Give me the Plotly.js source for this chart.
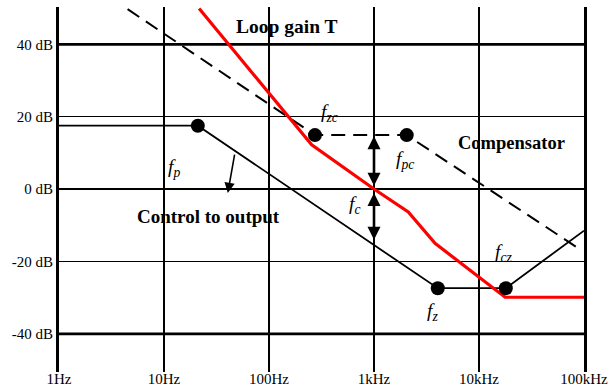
<!DOCTYPE html>
<html>
<head>
<meta charset="utf-8">
<script src="https://cdn.plot.ly/plotly-3.0.1.min.js"></script>
<style>
  html, body { margin: 0; padding: 0; background: #fff; }
  #plot { width: 615px; height: 387px; }
</style>
</head>
<body>
<div id="plot"></div>
<script>
// frequency (Hz) / gain (dB) corner points
const ctrlFreq = [1, 21, 4050, 18000, 100000];
const ctrlDb = [17.5, 17.5, -27.4, -27.4, -11.5];

const compFreq = [4.5, 274, 2050, 85500];
const compDb = [49.7, 14.9, 14.9, -16.1];

const loopFreq = [21.6, 255, 1000, 2120, 3815, 17740, 100000];
const loopDb = [49.9, 12.2, 0, -6.3, -15, -29.9, -29.9];

// poles / zeros marked with dots
const dotFreq = [21, 274, 2050, 4050, 18000];
const dotDb = [17.5, 14.9, 14.9, -27.4, -27.4];

const tickFreq = [1, 10, 100, 1000, 10000, 100000];
const tickText = ['1Hz', '10Hz', '100Hz', '1kHz', '10kHz', '100kHz'];
const dbTicks = [40, 20, 0, -20, -40];
const dbText = ['40 dB', '20 dB', '0 dB', '-20 dB', '-40 dB'];

// double arrows at the crossover frequency
const fcFreq = 1000;
const arrowTop = [14.6, -1.1];
const arrowBottom = [0.5, -14.4];

const serif = 'Liberation Serif, Times New Roman, serif';

const traces = [
  {
    x: ctrlFreq, y: ctrlDb, mode: 'lines', type: 'scatter',
    line: { color: '#000', width: 1.8 }, hoverinfo: 'none'
  },
  {
    x: compFreq, y: compDb, mode: 'lines', type: 'scatter',
    line: { color: '#000', width: 2, dash: '14px,8px' }, hoverinfo: 'none'
  },
  {
    x: loopFreq, y: loopDb, mode: 'lines', type: 'scatter',
    line: { color: '#ff0000', width: 3.2 }, hoverinfo: 'none'
  },
  {
    x: dotFreq, y: dotDb, mode: 'markers', type: 'scatter',
    marker: { color: '#000', size: 14 }, hoverinfo: 'none'
  }
];

function textLabel(freq, db, text, size, bold) {
  return {
    x: Math.log10(freq), y: db, xref: 'x', yref: 'y',
    text: bold ? '<b>' + text + '</b>' : text,
    showarrow: false,
    font: { family: serif, size: size, color: '#000' }
  };
}

const annotations = [
  textLabel(150, 45, 'Loop gain T', 19.5, true),
  textLabel(20560, 12.6, 'Compensator', 18.5, true),
  textLabel(26.3, -7.5, 'Control to output', 19, true),
  textLabel(12.4, 5.8, '<i>f</i><sub><i>p</i></sub>', 19.5),
  textLabel(373, 21, '<i>f</i><sub><i>zc</i></sub>', 19.5),
  textLabel(1976, 8, '<i>f</i><sub><i>pc</i></sub>', 19.5),
  textLabel(645, -4.4, '<i>f</i><sub><i>c</i></sub>', 19.5),
  textLabel(3573, -34, '<i>f</i><sub><i>z</i></sub>', 19.5),
  textLabel(17000, -17.7, '<i>f</i><sub><i>cz</i></sub>', 19.5)
];

arrowTop.forEach(function(top, i) {
  annotations.push({
    x: Math.log10(fcFreq), y: top, xref: 'x', yref: 'y',
    ax: Math.log10(fcFreq), ay: arrowBottom[i], axref: 'x', ayref: 'y',
    text: '', showarrow: true, arrowside: 'end+start',
    arrowhead: 2, arrowsize: 1, arrowwidth: 2.6, arrowcolor: '#000'
  });
});

// little pointer from the curve down to its label
annotations.push({
  x: Math.log10(40.5), y: -1.1, xref: 'x', yref: 'y',
  ax: Math.log10(47.3), ay: 9.9, axref: 'x', ayref: 'y',
  text: '', showarrow: true, arrowhead: 2, arrowsize: 1.3,
  arrowwidth: 1.6, arrowcolor: '#000'
});

// the +/-40 dB grid lines are drawn heavier
const shapes = dbTicks.filter(v => Math.abs(v) === 40).map(v => ({
  type: 'line', xref: 'paper', yref: 'y', x0: 0, x1: 1, y0: v, y1: v,
  line: { color: '#000', width: 2.8 }, layer: 'below'
}));

const layout = {
  width: 615,
  height: 387,
  margin: { l: 59, r: 31, t: 7, b: 15, pad: 0 },
  paper_bgcolor: '#fff',
  plot_bgcolor: '#fff',
  showlegend: false,
  font: { family: serif, color: '#000' },
  xaxis: {
    type: 'log',
    range: [0, 5],
    tickvals: tickFreq,
    ticktext: tickText,
    ticks: '',
    showgrid: true,
    gridcolor: '#000',
    gridwidth: 1.7,
    showline: false,
    zeroline: false,
    tickfont: { family: serif, size: 15, color: '#000' },
    ticklabelstandoff: -4
  },
  yaxis: {
    range: [-50.55, 50.3],
    tickvals: dbTicks,
    ticktext: dbText,
    ticks: '',
    showgrid: true,
    gridcolor: '#000',
    gridwidth: 1.5,
    zeroline: false,
    showline: true,
    mirror: true,
    linecolor: '#000',
    linewidth: 3,
    tickfont: { family: serif, size: 15, color: '#000' }
  },
  shapes: shapes,
  annotations: annotations
};

Plotly.newPlot('plot', traces, layout, { displayModeBar: false, staticPlot: true });
</script>
</body>
</html>
